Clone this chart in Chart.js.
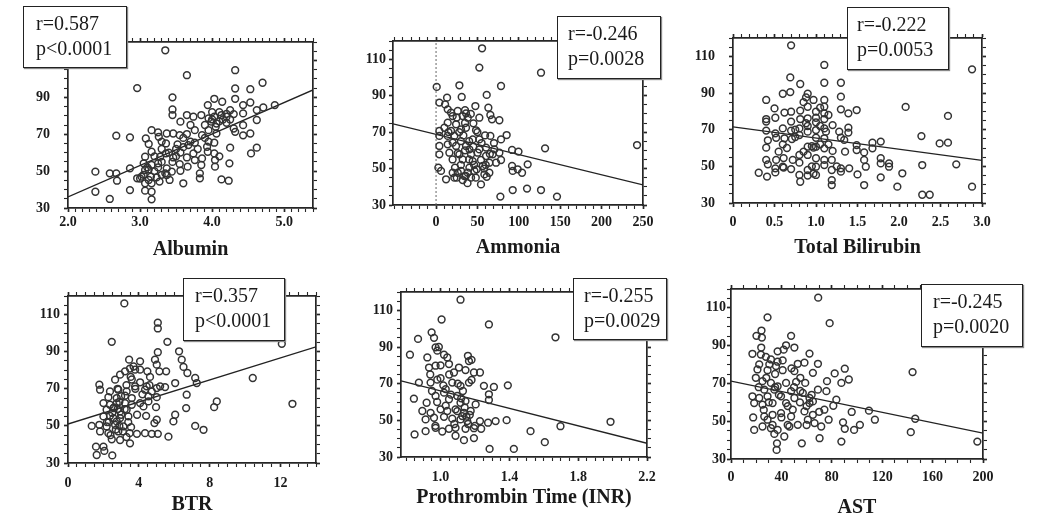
<!DOCTYPE html>
<html>
<head>
<meta charset="UTF-8">
<title>Correlation plots</title>
<script src="https://cdn.jsdelivr.net/npm/chart.js"></script>
<style>
  * { margin: 0; padding: 0; box-sizing: border-box; }
  body {
    width: 1038px;
    height: 520px;
    background: #fff;
    position: relative;
    overflow: hidden;
    font-family: "Liberation Serif", "Times New Roman", serif;
  }
  .panel { position: absolute; }
  .stat {
    position: absolute;
    background: #fff;
    border: 1.5px solid #222;
    box-shadow: 1px 1px 1px #888;
    font-size: 20px;
    line-height: 25px;
    color: #1a1a1a;
    padding-top: 4px;
    white-space: nowrap;
    z-index: 5;
  }
</style>
</head>
<body>
<script>
  // --- data ---
  const yTickLabels = [30, 50, 70, 90, 110];

  const albuminTicks = [2, 3, 4, 5];
  const albumin = [
    [3.35,115.5],[3.65,102],[4.32,104.7],[2.96,95],[4.70,97.9],[4.53,94.4],[4.32,94.8],[3.45,90],
    [4.03,89.2],[4.14,87.6],[3.94,85.8],[4.32,89.2],[4.43,85.8],[4.53,87.2],[3.45,83.4],[3.45,80.4],
    [3.65,80.4],[3.74,79.5],[3.85,80.4],[3.95,78.6],[4.03,79.5],[4.13,80.4],[4.20,79.5],[4.30,80.9],
    [4.43,81.3],[4.62,83.1],[4.71,84.5],[4.87,85.8],[4.62,77.7],[4.43,74.9],[4.30,73.1],[4.06,75.8],
    [3.99,76.8],[4.20,76.2],[3.56,76.8],[3.16,72.2],[3.25,71],[2.67,69.2],[2.86,68.3],[3.37,70.4],
    [3.46,70.4],[3.55,69.5],[3.65,70.1],[3.76,72.2],[3.86,69.5],[3.95,72.2],[4.06,70.4],[4.32,71.3],
    [4.43,69.4],[4.53,70.4],[3.08,67.7],[3.26,68.6],[3.12,64.7],[3.36,65],[3.52,64.5],[3.67,64.1],
    [3.76,65.4],[3.93,63.2],[4.03,65.4],[4.25,62.7],[4.62,62.7],[4.54,59.6],[3.16,60.5],[3.36,59.6],
    [3.56,60.1],[3.74,59.6],[3.94,60.5],[4.03,59.6],[3.07,57.8],[3.28,57.8],[3.46,57.4],[3.65,57.4],
    [3.76,56],[3.86,56.9],[4.04,56],[4.24,54.2],[3.05,54.2],[3.16,53.3],[3.25,54.2],[3.55,53.8],
    [3.66,52.4],[3.85,53.3],[4.04,52.4],[2.86,51.5],[3.07,50.6],[3.12,50.9],[3.37,51.5],[3.44,49.7],
    [3.56,50.2],[2.38,49.7],[2.58,48.8],[2.67,48.8],[2.96,46.1],[3.02,47],[3.12,45.2],[3.23,46.6],
    [3.35,48.8],[3.37,47.9],[3.83,48.8],[3.83,46.1],[4.13,45.5],[4.23,44.8],[2.68,44.8],[3.60,43.4],
    [3.07,43.4],[3.16,43.4],[3.27,44.3],[2.86,39.7],[2.38,38.8],[3.07,39.4],[3.16,38.8],[2.58,34.9],
    [3.16,34.7],[3.0,46],[3.41,45.2],[3.1,52],[3.2,50],[3.3,48],[3.5,62],[3.6,63],[4.1,77],
    [4.15,78],[4.05,74],[3.9,68],[3.7,66],[3.45,55],[3.3,62],[4.25,83],[4.0,82],
    [3.05,48],[3.15,47],[3.25,52],[3.3,55],[3.2,58],[3.4,60],[3.5,58],[3.9,75],[4.0,78],
    [4.2,81],[4.25,78],[4.1,82],[3.8,62],[3.6,68],[3.3,66],[3.95,66],[4.1,58],[3.7,75]
  ];
  const albuminFit = [[2.0, 36], [5.4, 94]];

  const ammoniaTicks = [0, 50, 100, 150, 200, 250];
  const ammonia = [
    [55.6,116],[52.3,105.4],[126.8,102.6],[0.8,94.8],[28.2,95.7],[78.5,95.3],[31,89.3],[61.2,90.4],
    [13.3,88.9],[4,86.2],[10.9,85.2],[47.5,84.3],[63.2,83.4],[14.1,82.5],[18.1,80.7],[26.2,81.6],
    [36.2,80.3],[20.1,78.8],[32.2,78.8],[38.3,77.9],[52.3,77.9],[65.6,79.4],[67.6,77],[76.5,76.5],
    [45.1,74.8],[14.1,75.2],[24.2,74.3],[4,70.6],[10.1,72.4],[18.1,70.6],[30.2,71.5],[36.2,72.4],
    [48.3,71],[4,67.9],[14.1,67.9],[22.1,67.9],[33,68.2],[59.2,68.2],[65.6,67.9],[85.3,68.4],
    [78.5,66],[4,62.4],[14.1,63.3],[24.2,62.4],[36.2,62.4],[40.3,60.5],[52.3,60.5],[60.4,61.5],
    [70.5,60.5],[4,57.8],[16.1,58.7],[26.2,58.4],[42.3,57.8],[50.3,58.7],[60.4,56.9],[68.4,57.8],
    [76.5,58.7],[91.8,60.2],[99.6,59.3],[131.7,61.1],[242.8,62.9],[32.2,55],[44.3,54.1],[54.3,54.7],
    [64.4,53.2],[72.5,53.2],[78.5,54.7],[56.4,51.4],[49.1,49.6],[40.3,50.5],[2.8,50.5],[22.9,50.5],
    [91.8,51.4],[110.7,52.3],[6,48.7],[20.1,47.7],[30.2,48.7],[38.3,47.7],[46.3,48.7],[58.4,46.8],
    [64.4,47.7],[92.6,48.7],[98.6,49.6],[103.9,47.7],[12.1,44.1],[22.1,45],[32.2,43.7],[42.3,45],
    [34.2,45.9],[61.2,45.5],[54.3,41.3],[77.7,34.6],[92.6,38.2],[109.9,39],[126.8,38.2],[146.1,34.6],
    [26.2,47.7],[28.2,57.8],[20.1,64.2],[44.3,66],[52.3,66],[35,75],[28,70],[40,65],[46,52],[36,46],
    [15,70],[25,78],[30,65],[35,60],[40,55],[45,62],[50,70],[55,64],[60,52],[65,58],
    [30,52],[20,55],[25,45],[38,42],[48,45],[58,50],[70,64],[35,82],[42,80]
  ];
  const ammoniaFit = [[-52, 74.5], [250, 41]];
  const ammoniaZero = [[0, 30], [0, 120]];

  const bilirubinTicks = [0, 0.5, 1, 1.5, 2, 2.5, 3];
  const bilirubin = [
    [0.70,116],[1.10,105.3],[2.88,102.9],[0.69,98.5],[0.81,94.9],[1.10,95.6],[1.30,95.6],[0.60,89.6],
    [0.69,90.5],[0.90,89.6],[0.88,87.6],[0.97,86.2],[1.10,86.2],[1.30,88],[0.40,86.2],[0.50,81.6],
    [0.62,79.3],[0.70,79.8],[0.81,80.4],[0.90,82.5],[1.00,79.8],[1.10,82.5],[1.10,78.9],[1.30,81.1],
    [1.39,78.9],[1.49,80.7],[2.08,82.4],[2.59,77.5],[0.40,75.8],[0.51,76.5],[0.81,75.8],[0.90,76.2],
    [1.00,76.5],[1.10,75.8],[0.40,74.4],[0.70,74.4],[0.88,73.5],[1.20,72.5],[0.40,69.5],[0.51,68],
    [0.60,70.7],[0.70,69.5],[0.80,70.7],[0.90,68.9],[1.00,69.8],[1.10,70.7],[1.12,68.9],[1.28,68.9],
    [1.39,71.1],[1.39,68.4],[0.42,64.2],[0.52,65.6],[0.62,65.3],[0.71,64.9],[0.80,67.1],[1.00,65.6],
    [1.10,65.3],[1.30,65.6],[1.34,64.4],[1.68,62.9],[1.78,63.5],[2.27,66.5],[2.49,62.5],[2.59,62.9],
    [0.40,60.2],[0.60,62],[0.90,60.7],[0.97,60.2],[1.00,60.7],[1.10,59.8],[1.20,58.4],[1.49,61.6],
    [1.49,58.9],[1.68,59.8],[0.40,53.5],[0.52,53.5],[0.61,54.5],[0.72,53.5],[0.80,56.2],[0.90,56.2],
    [1.00,54.4],[1.10,53.5],[1.19,53.5],[1.58,57.6],[1.58,53.5],[1.78,54.4],[1.78,51.6],[1.88,51.6],
    [0.42,51.1],[0.51,48.9],[0.60,49.8],[0.70,48.5],[1.00,49.8],[1.10,50.7],[1.30,48.9],[1.60,49.8],
    [1.88,49.8],[2.28,50.7],[2.69,51.1],[0.31,46.5],[0.41,44.4],[0.51,46.7],[0.61,49.3],[0.80,45.3],
    [0.90,48],[0.97,46],[1.00,45.3],[1.19,48],[1.30,47.1],[1.40,48.9],[1.50,45.6],[2.04,46.2],
    [0.81,41.6],[1.19,42.5],[1.19,39.8],[1.58,39.8],[1.78,44],[1.98,38.9],[2.88,38.9],[2.28,34.5],
    [2.37,34.5],[0.85,85],[1.05,72],[0.95,61],[0.75,66],[1.15,62],
    [0.9,72],[1.0,74],[1.05,62],[0.85,58],[0.95,50],[1.15,78],[0.75,70],[0.65,60],
    [0.55,58],[1.25,50],[1.05,82],[0.9,45],[1.35,58],[0.8,52]
  ];
  const bilirubinFit = [[0, 71.5], [3.0, 53.3]];

  const btrTicks = [0, 4, 8, 12];
  const btr = [
    [3.18,116],[5.07,105.6],[5.07,102.5],[2.47,95.3],[5.61,95.3],[12.07,94.2],[6.27,90.2],[5.07,89.7],
    [6.42,85.7],[3.45,85.7],[4.07,84.8],[4.91,85.7],[5.01,83],[6.52,81.8],[6.74,78.5],[3.50,80.9],
    [3.79,80.3],[4.07,80.3],[3.22,79.4],[4.48,79.4],[5.16,79.4],[5.54,79.4],[2.94,77.6],[3.54,76.4],
    [4.63,76.4],[7.18,75.8],[10.43,75.8],[7.27,73.1],[6.05,73.1],[2.66,74.9],[1.77,72.2],[4.07,73.5],
    [4.44,71.3],[5.01,70.4],[5.20,71.3],[5.48,70.9],[1.81,69.5],[2.37,68.6],[2.84,69.5],[3.31,68.6],
    [3.79,71.3],[4.35,69.5],[4.73,68.6],[2.28,65.5],[2.75,65],[3.22,66.3],[3.60,65],[4.54,65.9],
    [5.01,65.5],[6.70,66.8],[2.00,62.3],[2.37,61.4],[2.75,62.3],[3.22,62.3],[3.60,61.4],[4.07,62.3],
    [4.54,63.2],[8.40,63.2],[8.25,60.1],[12.67,61.9],[2.18,58.7],[2.56,59.6],[2.94,57.8],[3.31,58.7],
    [4.26,60.5],[4.97,60.1],[6.67,59.6],[2.00,55.1],[2.37,55.4],[2.94,54.2],[3.41,55.1],[4.41,55.4],
    [6.05,56],[5.95,52.4],[5.01,53.3],[1.34,50],[1.77,50.6],[2.18,49.7],[2.66,50.6],[3.13,49.7],
    [3.56,49.3],[4.88,51.5],[7.18,50],[7.65,47.9],[1.81,47],[2.28,46.1],[2.84,47],[3.48,46.1],
    [3.89,45.7],[4.35,46.1],[4.73,45.7],[5.07,45.7],[5.67,44.2],[2.47,42.8],[2.94,42.4],[3.50,40.6],
    [1.58,38.8],[2.00,38.8],[1.62,34.3],[2.50,34.1],[2.05,36.5],[2.56,54.2],[2.75,52.4],[2.6,60],
    [2.9,63],[3.0,56],[2.3,52],[3.1,47],[3.7,82],[3.3,72],[2.8,59],
    [2.2,52],[2.5,57],[2.7,48],[3.0,66],[3.2,59],[3.4,52],[2.8,70],[3.6,75],
    [3.8,70],[4.2,67],[4.6,72],[3.9,56],[2.4,45],[3.3,44],[2.9,50]
  ];
  const btrFit = [[0, 51], [14, 92.6]];

  const inrTicks = [1.0, 1.4, 1.8, 2.2];
  const inr = [
    [1.116,115.8],[1.006,105],[1.281,102.3],[1.668,95.3],[0.948,98],[0.962,95],[0.869,94.4],[0.822,85.8],
    [0.971,89.8],[0.981,88],[0.923,84.3],[1.02,85.8],[1.039,84.3],[1.159,85.2],[1.165,82.3],[0.933,78.8],
    [0.971,79.8],[1.049,80.7],[1.107,78.8],[1.229,76.1],[1.145,77.4],[1.078,76.1],[1.194,76.1],[0.874,70.6],
    [0.942,70.6],[0.981,72.2],[1.016,69.1],[1.068,70.6],[1.116,68.8],[1.165,70.6],[1.252,68.8],[1.31,68.2],
    [1.391,69.1],[0.845,61.8],[0.919,59.6],[0.971,63.3],[1.02,65.1],[1.049,61.5],[1.097,63.3],[1.145,60.5],
    [1.204,58.7],[1.281,64.2],[1.281,61.1],[0.894,55.1],[0.942,54.1],[1.0,56],[1.039,55.1],[1.087,56],
    [1.136,54.1],[1.175,55.1],[0.913,50.5],[0.962,51.4],[1.02,51.9],[1.068,50.9],[1.116,50.5],[1.155,49.6],
    [1.229,49.6],[1.276,48.7],[1.32,49.6],[1.384,50.1],[1.697,46.8],[1.988,49.2],[0.913,44.1],[0.971,45.9],
    [1.01,43.9],[1.049,45.4],[1.087,45.9],[1.145,45.4],[1.194,45.7],[1.236,45.4],[0.849,42.3],[1.087,41.6],
    [1.136,39.2],[1.194,40.3],[1.523,44.1],[1.606,38.1],[1.285,34.4],[1.426,34.4],[1.116,59.6],[1.126,52.3],
    [1.097,55],[0.99,90],[1.0,73],[1.03,67],[1.06,64],[1.15,52],[1.16,48],[0.95,66],[1.18,83],
    [1.0,80],[1.05,75],[1.1,70],[1.12,62],[1.14,57],[1.17,53],[1.2,47],[0.98,60],
    [1.03,58],[1.08,48],[0.97,47],[1.13,66],[1.18,72],[0.94,75]
  ];
  const inrFit = [[0.77, 71.5], [2.2, 37.5]];

  const astTicks = [0, 40, 80, 120, 160, 200];
  const ast = [
    [69.2,115.4],[78.3,101.9],[29,105],[24.2,98],[20.2,95.2],[24.5,94.3],[47.7,95.2],[43.7,90.2],
    [50.3,89],[41.8,87.9],[37,87],[62.3,85.8],[17,85.7],[23.7,85.3],[27.7,84.1],[31.7,82.7],
    [37,81.5],[41,82.2],[22.4,80.1],[30.4,80.1],[35.7,79.2],[53,80.4],[58.3,81],[69,80.4],
    [144.1,76],[90.3,77.8],[82.3,75.3],[21,77.4],[29,77],[41,77],[50.3,76.5],[65,75.6],
    [93.5,72.1],[87.6,70.3],[76.2,71.2],[19.7,73],[25,71.2],[31.7,70.3],[37,68.5],[43.7,70.3],
    [51.7,70.8],[58.9,70.3],[69,66.7],[75.7,65.9],[26.4,66.7],[34.4,66.7],[47.7,65.9],[57,65],
    [17,63.2],[22.4,62.3],[29,63.2],[39.7,63.2],[50.3,62.3],[62.3,62.3],[83.6,61.4],[18.4,59.6],
    [25,58.8],[33,59.6],[43.7,59.6],[54.7,60],[62.3,59.6],[65,60.5],[81.2,58.2],[109.5,55.6],
    [95.8,54.9],[17.6,52],[26.4,52.5],[33,53.4],[39.7,54.3],[49,56.1],[58.3,55.2],[65,53.4],
    [74.1,56.1],[114.2,50.8],[146.2,51.3],[18.4,45.4],[25,47.2],[31.7,46.3],[37,45.4],[46.3,47.2],
    [53,48.1],[61,50.8],[66.3,49],[71.6,47.2],[77.5,50.8],[88.9,49.4],[90.3,46],[97.7,45.4],
    [102.3,48.1],[142.7,44.2],[34.4,43.3],[42.3,41.9],[70.3,41],[56.2,38.3],[87.6,39.2],[36.5,38.3],
    [36.2,34.8],[195.5,39.2],[29,50.8],[47.7,52.5],[35,68],[28,73],[60,58],[45,48],[55,66],
    [22,68],[30,60],[35,75],[40,52],[45,58],[50,68],[55,73],[60,48],
    [33,48],[26,56],[38,64],[48,78],[64,64],[70,55],[24,89]
  ];
  const astFit = [[0, 71.2], [200, 43.7]];

  const statR = ['r=0.587', 'r=-0.246', 'r=-0.222', 'r=0.357', 'r=-0.255', 'r=-0.245'];
  const statP = ['p<0.0001', 'p=0.0028', 'p=0.0053', 'p<0.0001', 'p=0.0029', 'p=0.0020'];

  // --- layout per panel ---
  const panels = [
    { title: 'Albumin', pts: albumin, fit: albuminFit, labels: albuminTicks, fmt: v => v.toFixed(1),
      min: 2.0, max: 5.4, step: 0.1, area: [68, 42, 313, 208], titleY: 250, yPad: 14, xPad: 2,
      box: [23, 6, 104, 62, 12] },
    { title: 'Ammonia', pts: ammonia, fit: ammoniaFit, extra: ammoniaZero, labels: ammoniaTicks, fmt: v => String(v),
      min: -52, max: 250, step: 10, area: [393, 41, 643, 205], titleY: 248, yPad: 3, xPad: 5,
      box: [557, 16, 104, 63, 10] },
    { title: 'Total Bilirubin', pts: bilirubin, fit: bilirubinFit, labels: bilirubinTicks, fmt: v => v === 0 ? '0' : v.toFixed(1),
      min: 0, max: 3.0, step: 0.1, area: [733, 38, 982, 203], titleY: 248, yPad: 14, xPad: 7,
      box: [847, 7, 102, 63, 9] },
    { title: 'BTR', pts: btr, fit: btrFit, labels: btrTicks, fmt: v => String(v),
      min: 0, max: 14, step: 0.5, area: [68, 296, 316, 463], titleY: 505, yPad: 4, xPad: 8,
      box: [183, 278, 102, 63, 11] },
    { title: 'Prothrombin Time (INR)', pts: inr, fit: inrFit, labels: inrTicks, fmt: v => v.toFixed(1),
      min: 0.77, max: 2.2, step: 0.05, area: [401, 292, 647, 457], titleY: 498, yPad: 4, xPad: 8,
      box: [573, 278, 94, 62, 10] },
    { title: 'AST', pts: ast, fit: astFit, labels: astTicks, fmt: v => String(v),
      min: 0, max: 200, step: 10, area: [731, 289, 983, 459], titleY: 508, yPad: 1, xPad: 6,
      box: [921, 284, 102, 63, 11] }
  ];

  Chart.defaults.font.family = "'Liberation Serif', 'Times New Roman', serif";
  Chart.defaults.color = '#1a1a1a';

  const INK = '#262626';
  const near = (v, list) => list.find(L => Math.abs(v - L) < 1e-6);

  function makePanel(p, i) {
    const [l, t, r, b] = p.area;
    // room around the plot area, big enough that Chart.js never pushes the frame inwards
    const yW = 60, topH = 30, rightW = 24;
    const xH = p.titleY + 12 - b;
    const w = (r - l) + yW + rightW;
    const h = (b - t) + topH + xH;

    const wrap = document.createElement('div');
    wrap.className = 'panel';
    wrap.style.left = (l - yW) + 'px';
    wrap.style.top = (t - topH) + 'px';
    const canvas = document.createElement('canvas');
    canvas.width = w;
    canvas.height = h;
    wrap.appendChild(canvas);
    document.body.appendChild(wrap);

    const tickW = (list) => (ctx) => (ctx.tick && near(ctx.tick.value, list) !== undefined ? 1.7 : 1.1);
    const frame = { display: true, color: INK, width: 1.7 };
    const xTicks = { stepSize: p.step, autoSkip: false, maxRotation: 0, includeBounds: false };
    const yTicks = { stepSize: 5, autoSkip: false, includeBounds: false };

    const datasets = [
      {
        data: p.pts.map(([x, y]) => ({ x, y })),
        pointRadius: 3.4,
        pointBorderWidth: 1.5,
        pointBorderColor: '#333',
        pointBackgroundColor: 'rgba(0,0,0,0)',
        showLine: false
      },
      {
        data: p.fit.map(([x, y]) => ({ x, y })),
        showLine: true,
        borderColor: '#222',
        borderWidth: 1.3,
        pointRadius: 0
      }
    ];
    if (p.extra) {
      datasets.push({
        data: p.extra.map(([x, y]) => ({ x, y })),
        showLine: true,
        borderColor: '#666',
        borderWidth: 1,
        borderDash: [2, 2],
        pointRadius: 0
      });
    }

    new Chart(canvas, {
      type: 'scatter',
      data: { datasets },
      options: {
        responsive: false,
        animation: false,
        layout: { autoPadding: false, padding: 0 },
        plugins: { legend: { display: false }, tooltip: { enabled: false } },
        scales: {
          x: {
            type: 'linear', position: 'bottom', min: p.min, max: p.max,
            afterFit: s => { s.height = xH; },
            ticks: { ...xTicks, padding: p.xPad, color: '#1a1a1a', font: { size: 14, weight: 'bold' },
              callback: v => { const L = near(v, p.labels); return L === undefined ? '' : p.fmt(L); } },
            grid: { drawOnChartArea: false, tickLength: 4, color: INK, tickWidth: tickW(p.labels) },
            border: frame,
            title: { display: true, text: p.title, color: '#1a1a1a', padding: 0, font: { size: 20, weight: 'bold' } }
          },
          x2: {
            type: 'linear', position: 'top', min: p.min, max: p.max,
            afterFit: s => { s.height = topH; },
            ticks: { ...xTicks, display: false },
            grid: { drawOnChartArea: false, tickLength: 4, color: INK, tickWidth: tickW(p.labels) },
            border: frame
          },
          y: {
            type: 'linear', position: 'left', min: 30, max: 120,
            afterFit: s => { s.width = yW; },
            ticks: { ...yTicks, padding: p.yPad, color: '#1a1a1a', font: { size: 14, weight: 'bold' },
              callback: v => { const L = near(v, yTickLabels); return L === undefined ? '' : String(L); } },
            grid: { drawOnChartArea: false, tickLength: 4, color: INK, tickWidth: tickW(yTickLabels) },
            border: frame
          },
          y2: {
            type: 'linear', position: 'right', min: 30, max: 120,
            afterFit: s => { s.width = rightW; },
            ticks: { ...yTicks, display: false },
            grid: { drawOnChartArea: false, tickLength: 4, color: INK, tickWidth: tickW(yTickLabels) },
            border: frame
          }
        }
      }
    });

    // r / p annotation box
    const [bx, by, bw, bh, bpad] = p.box;
    const box = document.createElement('div');
    box.className = 'stat';
    box.style.left = bx + 'px';
    box.style.top = by + 'px';
    box.style.width = bw + 'px';
    box.style.height = bh + 'px';
    box.style.paddingLeft = bpad + 'px';
    box.innerHTML = '<div></div><div></div>';
    box.children[0].textContent = statR[i];
    box.children[1].textContent = statP[i];
    document.body.appendChild(box);
  }

  panels.forEach(makePanel);
</script>
</body>
</html>
